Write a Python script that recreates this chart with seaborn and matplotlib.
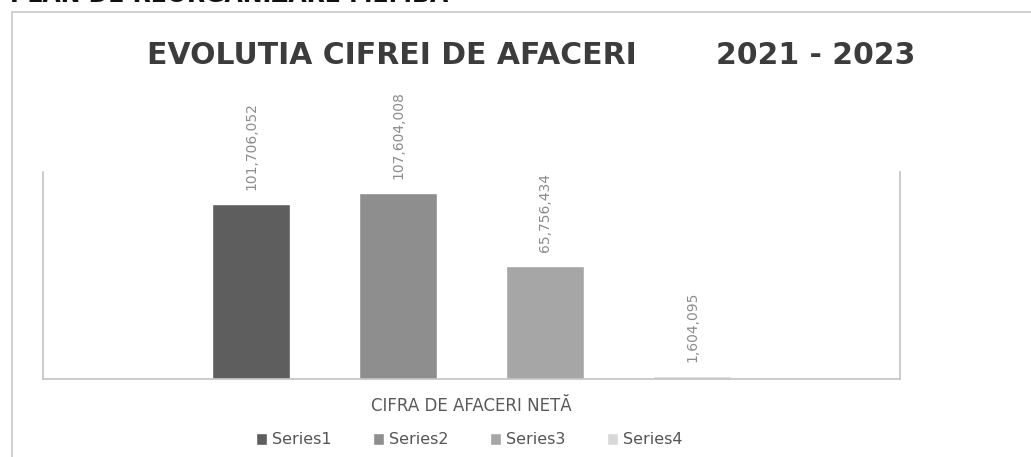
import matplotlib
matplotlib.use("Agg")
import matplotlib.pyplot as plt
import seaborn as sns
import pandas as pd
from matplotlib.lines import Line2D

# ---- data ----
category = ["CIFRA DE AFACERI NETĂ"]
series = ["Series1", "Series2", "Series3", "Series4"]
values = [101706052, 107604008, 65756434, 1604095]
labels = ["101,706,052", "107,604,008", "65,756,434", "1,604,095"]
colors = ["#5e5e5e", "#8e8e8e", "#a6a6a6", "#d8d8d8"]

df = pd.DataFrame({"cat": category * len(series), "series": series, "value": values})

sns.set_theme(style="white")
plt.rcParams["font.family"] = ["DejaVu Sans"]

fig = plt.figure(figsize=(10.31, 4.57), dpi=100)
ax = fig.add_axes([43 / 1031, 78 / 457, 857 / 1031, 207 / 457])

sns.barplot(data=df, x="cat", y="value", hue="series", palette=colors,
            width=0.8, gap=0.476, ax=ax, legend=False, saturation=1,
            errorbar=None)

ax.set_xlim(-0.583, 0.583)
ax.set_ylim(0, 120_000_000)

for cont, lab in zip(ax.containers, labels):
    ax.bar_label(cont, labels=[lab], rotation=90, padding=10,
                 fontsize=10, color="#8c8c8c")

ax.set_yticks([])
ax.set_xlabel("")
ax.set_ylabel("")
ax.tick_params(axis="x", length=0, pad=13, labelsize=12, labelcolor="#5a5a5a")
for s in ["left", "right", "bottom"]:
    ax.spines[s].set_color("#c4c4c4")
    ax.spines[s].set_linewidth(1.2)
ax.spines["top"].set_visible(False)

# title
fig.text(147 / 1031, 1 - 55 / 457, "EVOLUTIA CIFREI DE AFACERI",
         fontsize=21.5, fontweight="bold", color="#3c3c3c", ha="left", va="center")
fig.text(915 / 1031, 1 - 55 / 457, "2021 - 2023",
         fontsize=21.5, fontweight="bold", color="#3c3c3c", ha="right", va="center")

# clipped heading at the very top
fig.text(10 / 1031, 1 - 2 / 457, "PLAN DE REORGANIZARE MEMBA",
         fontsize=17, fontweight="bold", color="#111111", ha="left", va="baseline")

# outer chart border
fig.add_artist(Line2D([12 / 1031, 12 / 1031], [0, 1 - 12 / 457],
                      transform=fig.transFigure, color="#d2d2d2", lw=1.5))
fig.add_artist(Line2D([12 / 1031, 1], [1 - 12 / 457, 1 - 12 / 457],
                      transform=fig.transFigure, color="#d2d2d2", lw=1.5))

# legend
handles = [plt.Rectangle((0, 0), 1, 1, facecolor=c) for c in colors]
fig.legend(handles, series, loc="center", ncol=4,
           bbox_to_anchor=(469 / 1031, 1 - 440 / 457), frameon=False,
           fontsize=11.5, handlelength=0.7, handleheight=0.7,
           handletextpad=0.3, columnspacing=2.6, labelcolor="#555555")

fig.savefig("out.png", dpi=100)
